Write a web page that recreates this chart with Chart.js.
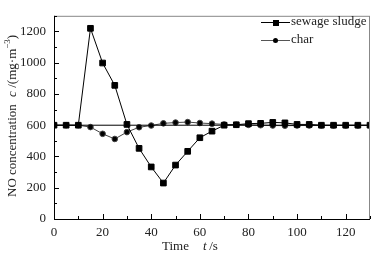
<!DOCTYPE html>
<html>
<head>
<meta charset="utf-8">
<script src="https://cdn.jsdelivr.net/npm/chart.js@4"></script>
<style>
  html, body { margin: 0; padding: 0; background: #fff; }
  #wrap { width: 392px; height: 259px; }
</style>
</head>
<body>
<div id="wrap"><canvas id="noChart"></canvas></div>
<script>
// time (s)
const times = [0, 5, 10, 15, 20, 25, 30, 35, 40, 45, 50, 55, 60, 65, 70, 75, 80, 85, 90, 95, 100, 105, 110, 115, 120, 125, 130];
const sludge = [600, 600, 600, 1220, 998, 855, 605, 452, 333, 230, 345, 433, 520, 562, 600, 603, 610, 612, 618, 615, 605, 605, 600, 600, 600, 600, 600];
const charVals = [600, 600, 600, 588, 545, 512, 556, 587, 598, 612, 617, 620, 614, 610, 605, 603, 602, 600, 598, 597, 598, 598, 598, 598, 598, 598, 598];
const baselineLevel = 600;
const seriesNames = ['sewage sludge', 'char'];
const xTickLabels = [0, 20, 40, 60, 80, 100, 120];
const yTickLabels = [0, 200, 400, 600, 800, 1000, 1200];

const FONT = '"Liberation Serif", serif';

const toPts = (vals) => vals.map((v, i) => ({ x: times[i], y: v }));

// inward ticks, frame, axis titles, legend
const decor = {
    id: 'decor',
    afterDraw(chart) {
        const { ctx, chartArea: a, scales } = chart;
        const xs = scales.x, ys = scales.y;
        ctx.save();
        // frame
        ctx.strokeStyle = '#888';
        ctx.lineWidth = 1;
        ctx.strokeRect(a.left + 0.5, a.top + 0.5, a.right - a.left - 1, a.bottom - a.top);
        ctx.strokeStyle = '#000';
        ctx.beginPath();
        ctx.moveTo(a.left + 0.5, a.top);
        ctx.lineTo(a.left + 0.5, a.bottom + 0.5);
        ctx.lineTo(a.right, a.bottom + 0.5);
        ctx.stroke();
        // x ticks
        for (let v = 0; v <= 130; v += 10) {
            const px = Math.round(xs.getPixelForValue(v)) + 0.5;
            const len = v % 20 === 0 ? 5 : 3;
            ctx.beginPath();
            ctx.moveTo(px, a.bottom);
            ctx.lineTo(px, a.bottom - len);
            ctx.stroke();
        }
        // y ticks
        for (let v = 0; v <= 1300; v += 100) {
            const py = Math.round(ys.getPixelForValue(v)) + 0.5;
            const len = v % 200 === 0 ? 5 : 3;
            ctx.beginPath();
            ctx.moveTo(a.left, py);
            ctx.lineTo(a.left + len, py);
            ctx.stroke();
        }
        // x title
        ctx.fillStyle = '#222';
        ctx.textBaseline = 'middle';
        ctx.textAlign = 'left';
        ctx.font = '13px ' + FONT;
        ctx.fillText('Time', 162, 247);
        ctx.font = 'italic 13px ' + FONT;
        ctx.fillText('t', 203, 247);
        ctx.font = '13px ' + FONT;
        ctx.fillText(' /s', 206, 247);
        // y title
        ctx.translate(13, 197);
        ctx.rotate(-Math.PI / 2);
        ctx.font = '13px ' + FONT;
        ctx.fillText('NO concentration', 0, 0);
        ctx.font = 'italic 13px ' + FONT;
        ctx.fillText('c', 100, 0);
        ctx.font = '13px ' + FONT;
        ctx.fillText(' /(mg\u00b7m', 106, 0);
        const w = ctx.measureText(' /(mg\u00b7m').width;
        ctx.font = '9px ' + FONT;
        ctx.fillText('\u22123', 106 + w, -5);
        const w2 = ctx.measureText('\u22123').width;
        ctx.font = '13px ' + FONT;
        ctx.fillText(')', 106 + w + w2, 0);
        ctx.setTransform(1, 0, 0, 1, 0, 0);
        // legend
        const styles = ['rect', 'circle'];
        const colors = ['#000', '#555'];
        seriesNames.forEach((name, i) => {
            const y = 22 + i * 18;
            ctx.strokeStyle = colors[i];
            ctx.fillStyle = '#000';
            ctx.beginPath();
            ctx.moveTo(261, y + 0.5);
            ctx.lineTo(290, y + 0.5);
            ctx.stroke();
            if (styles[i] === 'rect') {
                ctx.fillRect(273, y - 2, 6, 6);
            } else {
                ctx.beginPath();
                ctx.arc(275.5, y + 0.5, 2.5, 0, Math.PI * 2);
                ctx.fill();
            }
            ctx.fillStyle = '#222';
            ctx.font = '13px ' + FONT;
            ctx.textAlign = 'left';
            ctx.fillText(name, 291, y);
        });
        ctx.restore();
    }
};

new Chart(document.getElementById('noChart'), {
    type: 'line',
    data: {
        datasets: [{
            label: 'baseline',
            data: [{ x: times[0], y: baselineLevel }, { x: times[times.length - 1], y: baselineLevel }],
            borderColor: '#000',
            borderWidth: 1,
            pointRadius: 0
        }, {
            label: seriesNames[0],
            data: toPts(sludge),
            borderColor: '#000',
            backgroundColor: '#000',
            borderWidth: 1,
            pointStyle: 'rect',
            pointRadius: 4,
            tension: 0
        }, {
            label: seriesNames[1],
            data: toPts(charVals),
            borderColor: '#444',
            backgroundColor: '#000',
            borderWidth: 1,
            pointStyle: 'circle',
            pointRadius: 2.8,
            tension: 0
        }]
    },
    options: {
        responsive: true,
        maintainAspectRatio: false,
        animation: false,
        layout: { padding: { left: 0, top: 12, right: 22, bottom: 0 } },
        plugins: {
            legend: { display: false },
            tooltip: { enabled: false }
        },
        scales: {
            x: {
                type: 'linear',
                min: 0,
                max: 130,
                afterFit: (s) => { s.height = 40; },
                afterBuildTicks: (s) => { s.ticks = xTickLabels.map(v => ({ value: v })); },
                grid: { display: false, drawTicks: false },
                border: { display: false },
                ticks: {
                    autoSkip: false,
                    padding: 6,
                    color: '#222',
                    font: { family: FONT, size: 13 },
                    maxRotation: 0,
                    callback: (v) => String(v)
                }
            },
            y: {
                min: 0,
                max: 1300,
                afterFit: (s) => { s.width = 54; },
                afterBuildTicks: (s) => { s.ticks = yTickLabels.map(v => ({ value: v })); },
                grid: { display: false, drawTicks: false },
                border: { display: false },
                ticks: {
                    autoSkip: false,
                    padding: 8,
                    color: '#222',
                    font: { family: FONT, size: 13 },
                    callback: (v) => String(v)
                }
            }
        }
    },
    plugins: [decor]
});
</script>
</body>
</html>
